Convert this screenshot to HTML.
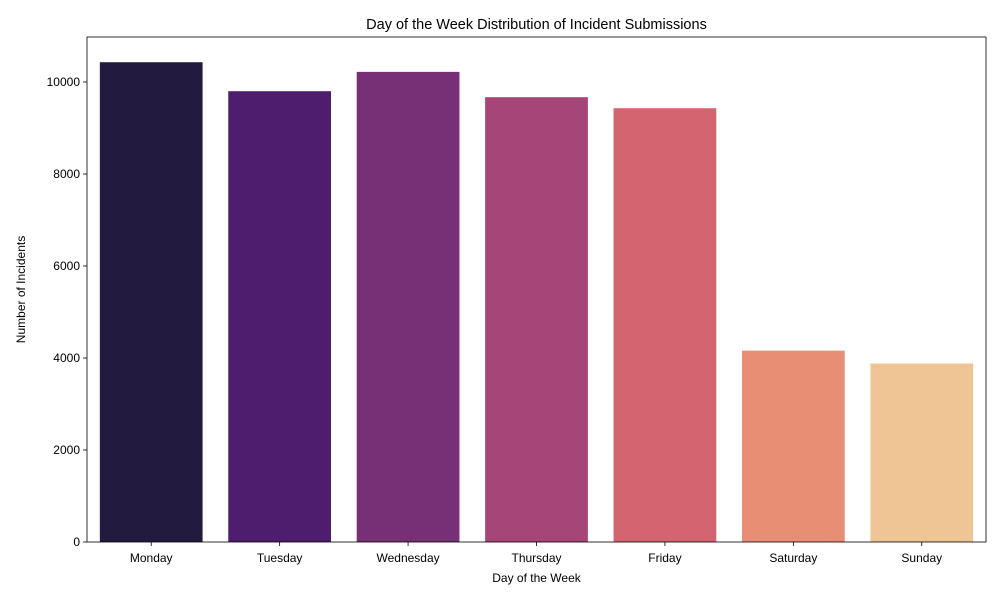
<!DOCTYPE html>
<html><head><meta charset="utf-8"><style>
body{margin:0;background:#fff;font-family:"Liberation Sans",sans-serif;}
</style></head><body>
<svg id="chart" width="1000" height="600" xmlns="http://www.w3.org/2000/svg" font-family="Liberation Sans, sans-serif">
<rect width="1000" height="600" fill="#fff"/>
<text x="536.5" y="29" text-anchor="middle" font-size="14.5">Day of the Week Distribution of Incident Submissions</text>
<g id="bars"></g>
<g id="axes"></g>
<text x="536.5" y="582" text-anchor="middle" font-size="12">Day of the Week</text>
<text transform="translate(25,289.5) rotate(-90)" text-anchor="middle" font-size="12">Number of Incidents</text>
</svg>
<script>
const categories=["Monday","Tuesday","Wednesday","Thursday","Friday","Saturday","Sunday"];
const values=[10430,9800,10220,9670,9430,4160,3880];
const colors=["#221a3f","#4f1d6d","#772f75","#a64577","#d46470","#e88e74","#efc595"];
const yTicks=[0,2000,4000,6000,8000,10000];
const L=87,R=986,T=37,B=542;
const ns="http://www.w3.org/2000/svg";
const y=v=>B-v*0.046;
const step=(R-L)/categories.length;
const x=i=>L+step*(i+0.5);
const bars=document.getElementById('bars'),axes=document.getElementById('axes');
function mk(tag,attrs,parent){const e=document.createElementNS(ns,tag);for(const k in attrs)e.setAttribute(k,attrs[k]);parent.appendChild(e);return e;}
categories.forEach((c,i)=>{
 const w=step*0.8;
 const r=mk('rect',{x:x(i)-w/2,y:y(values[i]),width:w,height:B-y(values[i]),fill:colors[i]},bars);
 
 
 mk('line',{x1:x(i),x2:x(i),y1:B,y2:B+4,stroke:'#000','stroke-width':0.8},axes);
 const t=mk('text',{x:x(i),y:B+20,'text-anchor':'middle','font-size':12},axes);
 t.textContent=c;
 
 
});
yTicks.forEach(v=>{
 mk('line',{x1:L-4,x2:L,y1:y(v),y2:y(v),stroke:'#000','stroke-width':0.8},axes);
 const t=mk('text',{x:L-7,y:y(v)+4,'text-anchor':'end','font-size':12},axes);
 t.textContent=v;
 
 
});
const f=mk('rect',{x:L,y:T,width:R-L,height:B-T,fill:'none',stroke:'#000','stroke-width':0.8},axes);


</script>
</body></html>
